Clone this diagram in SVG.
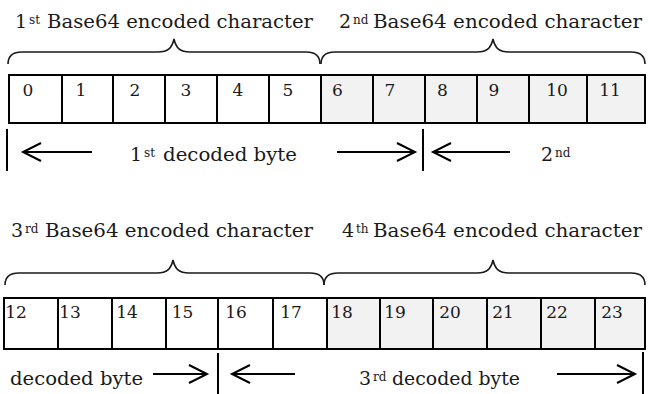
<svg xmlns="http://www.w3.org/2000/svg" width="649" height="394" viewBox="0 0 649 394">
<defs>
<style>
text{font-family:"DejaVu Serif","Liberation Serif",serif;fill:#1a1a1a}
.t{font-size:19px}
.sup{font-size:12px}
.num{font-size:17px;text-anchor:middle}
.c{fill:#ffffff;stroke:#000;stroke-width:2}
.g{fill:#f2f2f2;stroke:#000;stroke-width:2}
.brace{fill:none;stroke:#1a1a1a;stroke-width:1.6}
.ln{stroke:#000;stroke-width:2;fill:none}
.arr{stroke:#000;stroke-width:2;fill:none;marker-end:url(#head)}
</style>
<marker id="head" markerUnits="userSpaceOnUse" markerWidth="24" markerHeight="24" refX="20" refY="11" orient="auto">
<path d="M2,2 L20,11 L2,20" fill="none" stroke="#000" stroke-width="2"/>
</marker>
</defs>
<rect width="649" height="394" fill="#ffffff"/>

<g id="labels-top">
<text class="t" x="15" y="28">1</text><text class="sup" x="29" y="24">st</text>
<text class="t" x="47" y="28" textLength="266" lengthAdjust="spacingAndGlyphs">Base64 encoded character</text>
<text class="t" x="339" y="28">2</text><text class="sup" x="353" y="24">nd</text>
<text class="t" x="373" y="28" textLength="269" lengthAdjust="spacingAndGlyphs">Base64 encoded character</text>
</g>

<g id="braces-top">
<path class="brace" d="M8,64 C8,56 12,52 22,52 L158,52 C168,52 172,48 174,39 C176,48 180,52 190,52 L306,52 C316,52 320,56 320,64"/>
<path class="brace" d="M321,64 C321,56 325,52 335,52 L477,52 C487,52 491,48 493,39 C495,48 499,52 509,52 L631,52 C641,52 645,56 645,64"/>
</g>

<g id="row1">
<g id="cell0"><rect class="c" x="9" y="75" width="53" height="48"/><text class="num" x="28" y="96">0</text></g>
<g id="cell1"><rect class="c" x="62" y="75" width="51" height="48"/><text class="num" x="81" y="96">1</text></g>
<g id="cell2"><rect class="c" x="113" y="75" width="52" height="48"/><text class="num" x="135" y="96">2</text></g>
<g id="cell3"><rect class="c" x="165" y="75" width="52" height="48"/><text class="num" x="186" y="96">3</text></g>
<g id="cell4"><rect class="c" x="217" y="75" width="52" height="48"/><text class="num" x="238" y="96">4</text></g>
<g id="cell5"><rect class="c" x="269" y="75" width="52" height="48"/><text class="num" x="288" y="96">5</text></g>
<g id="cell6"><rect class="g" x="321" y="75" width="52" height="48"/><text class="num" x="337.5" y="96">6</text></g>
<g id="cell7"><rect class="g" x="373" y="75" width="52" height="48"/><text class="num" x="390" y="96">7</text></g>
<g id="cell8"><rect class="g" x="425" y="75" width="52" height="48"/><text class="num" x="442.5" y="96">8</text></g>
<g id="cell9"><rect class="g" x="477" y="75" width="52" height="48"/><text class="num" x="494" y="96">9</text></g>
<g id="cell10"><rect class="g" x="529" y="75" width="58" height="48"/><text class="num" x="557" y="96">10</text></g>
<g id="cell11"><rect class="g" x="587" y="75" width="58" height="48"/><text class="num" x="610" y="96">11</text></g>
</g>

<g id="labels-mid">
<text class="t" x="130" y="161">1</text><text class="sup" x="144" y="157">st</text>
<text class="t" x="163" y="161" textLength="134" lengthAdjust="spacingAndGlyphs">decoded byte</text>
<text class="t" x="541" y="161">2</text><text class="sup" x="555" y="157">nd</text>
<text class="t" x="11" y="237">3</text><text class="sup" x="25" y="233">rd</text>
<text class="t" x="45" y="237" textLength="268" lengthAdjust="spacingAndGlyphs">Base64 encoded character</text>
<text class="t" x="342" y="237">4</text><text class="sup" x="356" y="233">th</text>
<text class="t" x="373" y="237" textLength="269" lengthAdjust="spacingAndGlyphs">Base64 encoded character</text>
</g>

<g id="braces-bottom">
<path class="brace" d="M5,285 C5,277 9,273 19,273 L157,273 C167,273 171,269 173,260 C175,269 179,273 189,273 L310,273 C320,273 324,277 324,285"/>
<path class="brace" d="M324,285 C324,277 328,273 338,273 L477,273 C487,273 491,269 493,260 C495,269 499,273 509,273 L631,273 C641,273 645,277 645,285"/>
</g>

<g id="row2">
<g id="cell12"><rect class="c" x="4" y="298" width="54" height="51"/><text class="num" x="16" y="318">12</text></g>
<g id="cell13"><rect class="c" x="58" y="298" width="54" height="51"/><text class="num" x="70" y="318">13</text></g>
<g id="cell14"><rect class="c" x="112" y="298" width="54" height="51"/><text class="num" x="127" y="318">14</text></g>
<g id="cell15"><rect class="c" x="166" y="298" width="52" height="51"/><text class="num" x="182.5" y="318">15</text></g>
<g id="cell16"><rect class="c" x="218" y="298" width="55" height="51"/><text class="num" x="236" y="318">16</text></g>
<g id="cell17"><rect class="c" x="273" y="298" width="54" height="51"/><text class="num" x="291" y="318">17</text></g>
<g id="cell18"><rect class="g" x="327" y="298" width="53" height="51"/><text class="num" x="342" y="318">18</text></g>
<g id="cell19"><rect class="g" x="380" y="298" width="53" height="51"/><text class="num" x="395" y="318">19</text></g>
<g id="cell20"><rect class="g" x="433" y="298" width="54" height="51"/><text class="num" x="450" y="318">20</text></g>
<g id="cell21"><rect class="g" x="487" y="298" width="54" height="51"/><text class="num" x="503" y="318">21</text></g>
<g id="cell22"><rect class="g" x="541" y="298" width="54" height="51"/><text class="num" x="557" y="318">22</text></g>
<g id="cell23"><rect class="g" x="595" y="298" width="50" height="51"/><text class="num" x="612" y="318">23</text></g>
</g>

<g id="labels-bottom">
<text class="t" x="10" y="385" textLength="133" lengthAdjust="spacingAndGlyphs">decoded byte</text>
<text class="t" x="359" y="385">3</text><text class="sup" x="373" y="381">rd</text>
<text class="t" x="392" y="385" textLength="128" lengthAdjust="spacingAndGlyphs">decoded byte</text>
</g>

<g id="connectors">
<line class="ln" x1="7" y1="129" x2="7" y2="171"/>
<line class="arr" x1="92" y1="152" x2="23" y2="152"/>
<line class="arr" x1="337" y1="152" x2="415" y2="152"/>
<line class="ln" x1="423" y1="129" x2="423" y2="171"/>
<line class="arr" x1="510" y1="152" x2="433" y2="152"/>
<line class="arr" x1="153" y1="374" x2="207" y2="374"/>
<line class="ln" x1="218" y1="353" x2="218" y2="394"/>
<line class="arr" x1="295" y1="374" x2="232" y2="374"/>
<line class="arr" x1="557" y1="374" x2="635" y2="374"/>
<line class="ln" x1="643" y1="352" x2="643" y2="394"/>
</g>
</svg>
